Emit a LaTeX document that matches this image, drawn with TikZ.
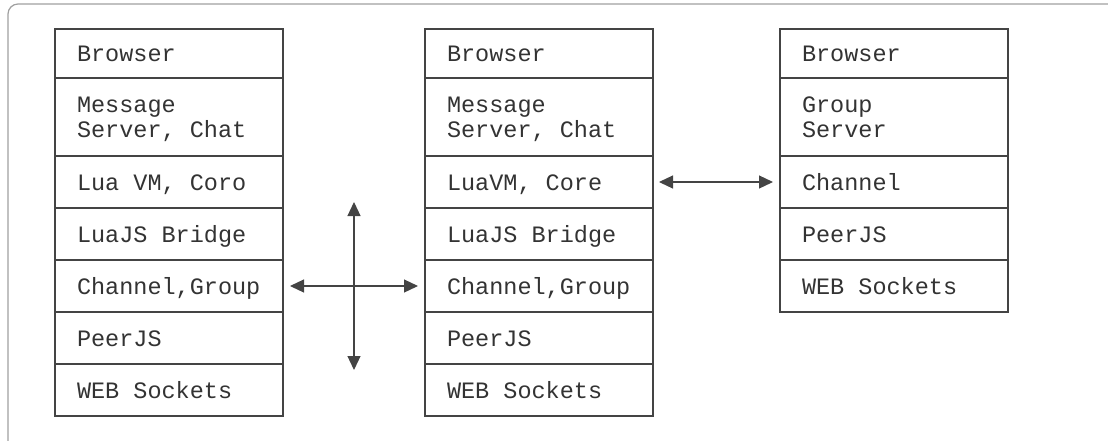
\documentclass[tikz,border=0pt]{standalone}
\usepackage{fontspec}
\setmonofont{Liberation Mono}
\usetikzlibrary{arrows.meta,calc}
\definecolor{ink}{HTML}{444444}
\definecolor{txt}{HTML}{333333}
\definecolor{framegray}{HTML}{A0A0A0}
\begin{document}
\begin{tikzpicture}[x=1pt,y=-1pt,
  layer/.style={draw=ink, line width=1.2pt, text=txt, outer sep=0pt,
    font=\ttfamily\fontsize{23.5}{25}\selectfont,
    text width=184pt, inner xsep=22pt, minimum width=228pt,
    align=flush left, text height=16.5pt, text depth=0pt,
    minimum height=52pt, anchor=north west},
  toprow/.style={minimum height=49pt},
  tworow/.style={minimum height=78pt, text depth=25pt},
  link/.style={draw=ink, line width=1.2pt,
    {Triangle[length=14pt,width=13pt]}-{Triangle[length=14pt,width=13pt]}}]
\useasboundingbox (0,0) rectangle (1108,440);
\begin{scope}
  \clip (0,0) rectangle (1108,440);
  \draw[framegray, line width=1.2pt, rounded corners=10pt] (8,4) rectangle (1122,452);
\end{scope}

% left stack
\node[layer, toprow] (a1) at (55,29) {Browser};
\node[layer, tworow] (a2) at (a1.south west) {Message\\Server, Chat};
\node[layer] (a3) at (a2.south west) {Lua VM, Coro};
\node[layer] (a4) at (a3.south west) {LuaJS Bridge};
\node[layer] (a5) at (a4.south west) {Channel,Group};
\node[layer] (a6) at (a5.south west) {PeerJS};
\node[layer] (a7) at (a6.south west) {WEB Sockets};

% middle stack
\node[layer, toprow] (b1) at (425,29) {Browser};
\node[layer, tworow] (b2) at (b1.south west) {Message\\Server, Chat};
\node[layer] (b3) at (b2.south west) {LuaVM, Core};
\node[layer] (b4) at (b3.south west) {LuaJS Bridge};
\node[layer] (b5) at (b4.south west) {Channel,Group};
\node[layer] (b6) at (b5.south west) {PeerJS};
\node[layer] (b7) at (b6.south west) {WEB Sockets};

% right stack
\node[layer, toprow] (c1) at (780,29) {Browser};
\node[layer, tworow] (c2) at (c1.south west) {Group\\Server};
\node[layer] (c3) at (c2.south west) {Channel};
\node[layer] (c4) at (c3.south west) {PeerJS};
\node[layer] (c5) at (c4.south west) {WEB Sockets};

% connectors
\coordinate (hub) at ($(a5.east)!0.5!(b5.west)$);
\coordinate (hubtop) at ([yshift=84pt]hub);
\coordinate (hubbot) at ([yshift=-84pt]hub);
\draw[link] ([xshift=7pt]a5.east) -- ([xshift=-7pt]b5.west);
\draw[link] (hubtop) -- (hubbot);
\draw[link] ([xshift=6pt]b3.east) -- ([xshift=-7pt]c3.west);
\end{tikzpicture}
\end{document}
